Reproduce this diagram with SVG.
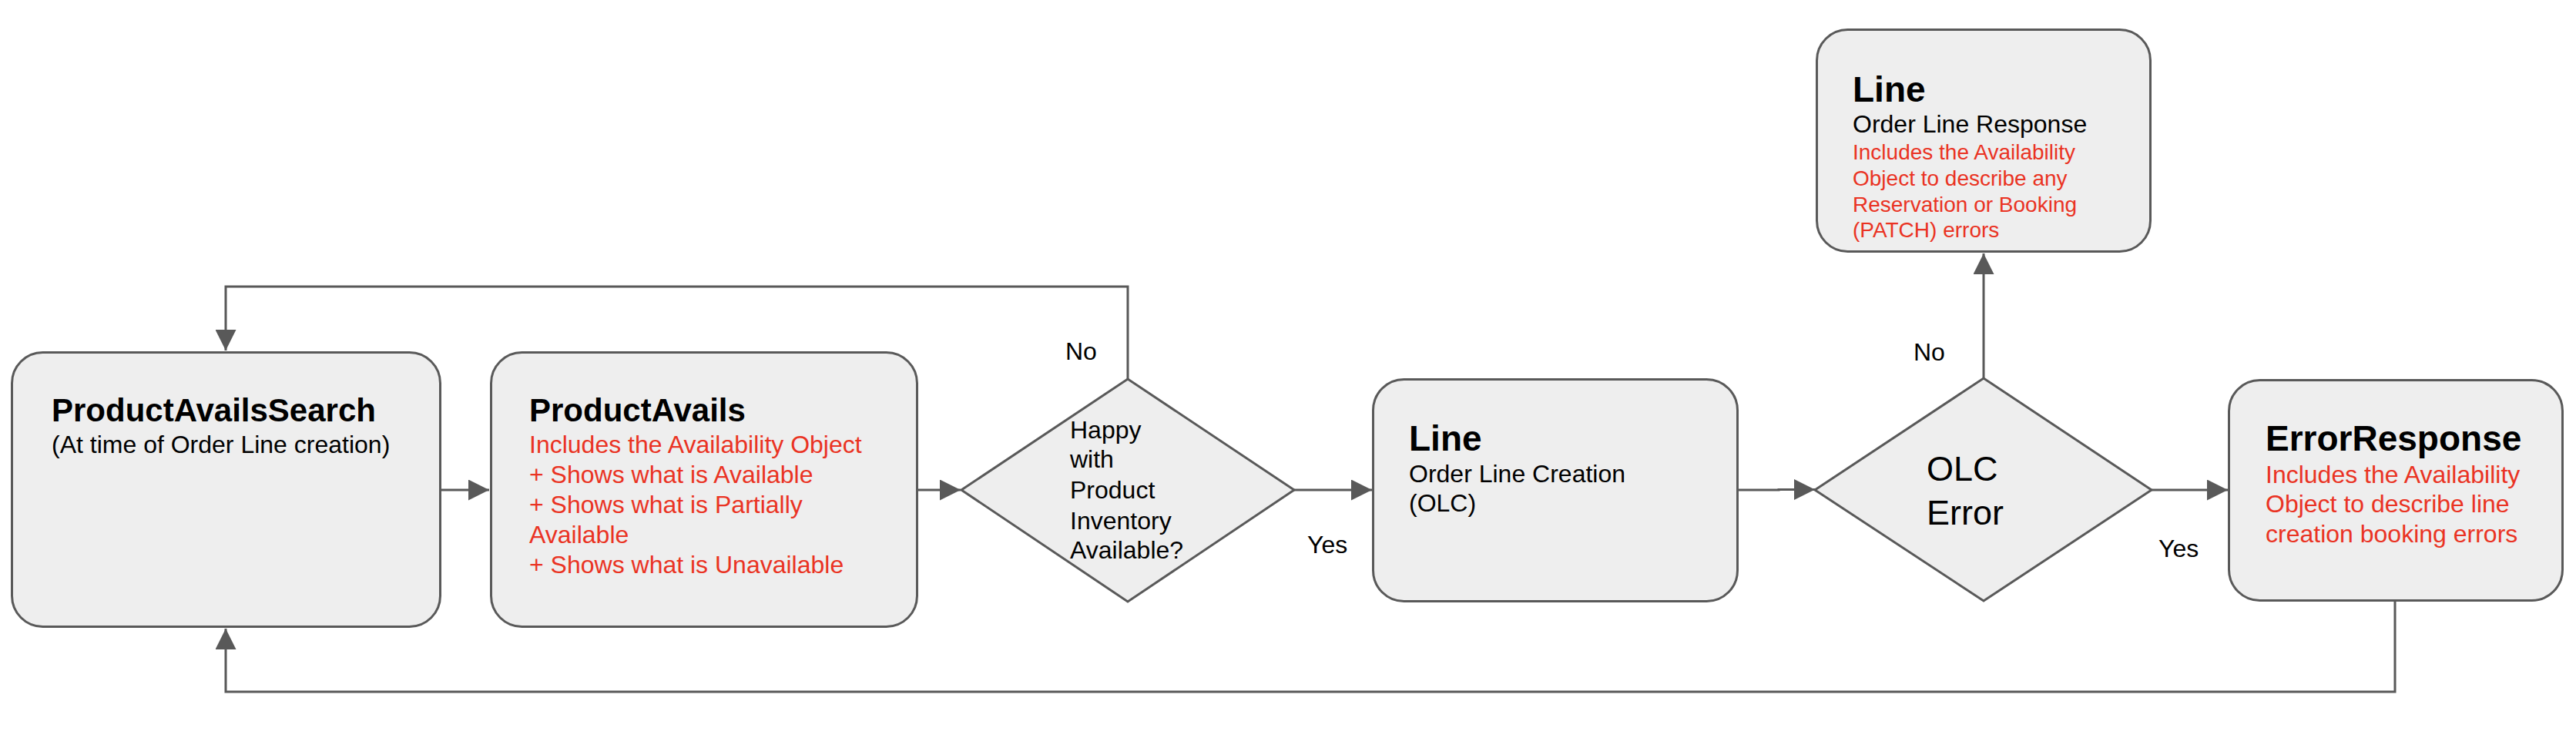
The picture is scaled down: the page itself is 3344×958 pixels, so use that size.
<svg xmlns="http://www.w3.org/2000/svg" width="3344" height="958" viewBox="0 0 3344 958">
<style>
.box{fill:#eeeeee;stroke:#595959;stroke-width:3}
.con{fill:none;stroke:#595959;stroke-width:3}
text{font-family:"Liberation Sans",Arial,Helvetica,sans-serif;fill:#000}
.title{font-size:46px;font-weight:bold}
.title42{font-size:42px;font-weight:bold}
.t32{font-size:32px}
.red{fill:#ea3323}
.r28{font-size:28px}
.dec{font-size:45px}
</style>
<defs>
<marker id="arr" markerUnits="userSpaceOnUse" markerWidth="27" markerHeight="27" refX="27" refY="13.5" orient="auto">
<path d="M0,0 L27,13.5 L0,27 z" fill="#595959"/>
</marker>
</defs>
<rect width="3344" height="958" fill="#ffffff"/>
<g id="connectors">
<path class="con" d="M573,636 H635" marker-end="url(#arr)"/>
<path class="con" d="M1191,636 H1247" marker-end="url(#arr)"/>
<path class="con" d="M1680,636 H1781" marker-end="url(#arr)"/>
<path class="con" d="M2257,636 H2309 V635.5 H2356" marker-end="url(#arr)"/>
<path class="con" d="M2793,636 H2892" marker-end="url(#arr)"/>
<path class="con" d="M2575,491 V329" marker-end="url(#arr)"/>
<path class="con" d="M1464,492 V372 H293 V455" marker-end="url(#arr)"/>
<path class="con" d="M3109,781 V898 H293 V816" marker-end="url(#arr)"/>
<text class="t32" x="1383" y="467">No</text>
<text class="t32" x="1697" y="718">Yes</text>
<text class="t32" x="2484" y="468">No</text>
<text class="t32" x="2802" y="723">Yes</text>
</g>
<g id="productAvailsSearch">
<rect class="box" x="15.5" y="457.5" width="556" height="356" rx="40"/>
<text class="title42" x="67" y="547">ProductAvailsSearch</text>
<text class="t32" x="67" y="588">(At time of Order Line creation)</text>
</g>
<g id="productAvails">
<rect class="box" x="637.5" y="457.5" width="553" height="356" rx="40"/>
<text class="title42" x="687" y="547">ProductAvails</text>
<text class="t32 red" x="687" y="588">Includes the Availability Object</text>
<text class="t32 red" x="687" y="627">+ Shows what is Available</text>
<text class="t32 red" x="687" y="666">+ Shows what is Partially</text>
<text class="t32 red" x="687" y="705">Available</text>
<text class="t32 red" x="687" y="744">+ Shows what is Unavailable</text>
</g>
<g id="happyDecision">
<polygon class="box" points="1248,636 1464,492 1680,636 1464,781"/>
<text class="t32" x="1389" y="569">Happy</text>
<text class="t32" x="1389" y="607">with</text>
<text class="t32" x="1389" y="647">Product</text>
<text class="t32" x="1389" y="687">Inventory</text>
<text class="t32" x="1389" y="725">Available?</text>
</g>
<g id="lineCreation">
<rect class="box" x="1782.5" y="492.5" width="473" height="288" rx="40"/>
<text class="title" x="1829" y="585">Line</text>
<text class="t32" x="1829" y="626">Order Line Creation</text>
<text class="t32" x="1829" y="664">(OLC)</text>
</g>
<g id="olcErrorDecision">
<polygon class="box" points="2356,636 2575,491 2793,636 2575,780"/>
<text class="dec" x="2501" y="624">OLC</text>
<text class="dec" x="2501" y="681">Error</text>
</g>
<g id="lineResponse">
<rect class="box" x="2358.5" y="38.5" width="433" height="288" rx="40"/>
<text class="title" x="2405" y="132">Line</text>
<text class="t32" x="2405" y="172">Order Line Response</text>
<text class="r28 red" x="2405" y="207">Includes the Availability</text>
<text class="r28 red" x="2405" y="241">Object to describe any</text>
<text class="r28 red" x="2405" y="275">Reservation or Booking</text>
<text class="r28 red" x="2405" y="308">(PATCH) errors</text>
</g>
<g id="errorResponse">
<rect class="box" x="2893.5" y="493.5" width="433" height="286" rx="40"/>
<text class="title" x="2941" y="585">ErrorResponse</text>
<text class="t32 red" x="2941" y="627">Includes the Availability</text>
<text class="t32 red" x="2941" y="665">Object to describe line</text>
<text class="t32 red" x="2941" y="704">creation booking errors</text>
</g>
</svg>
